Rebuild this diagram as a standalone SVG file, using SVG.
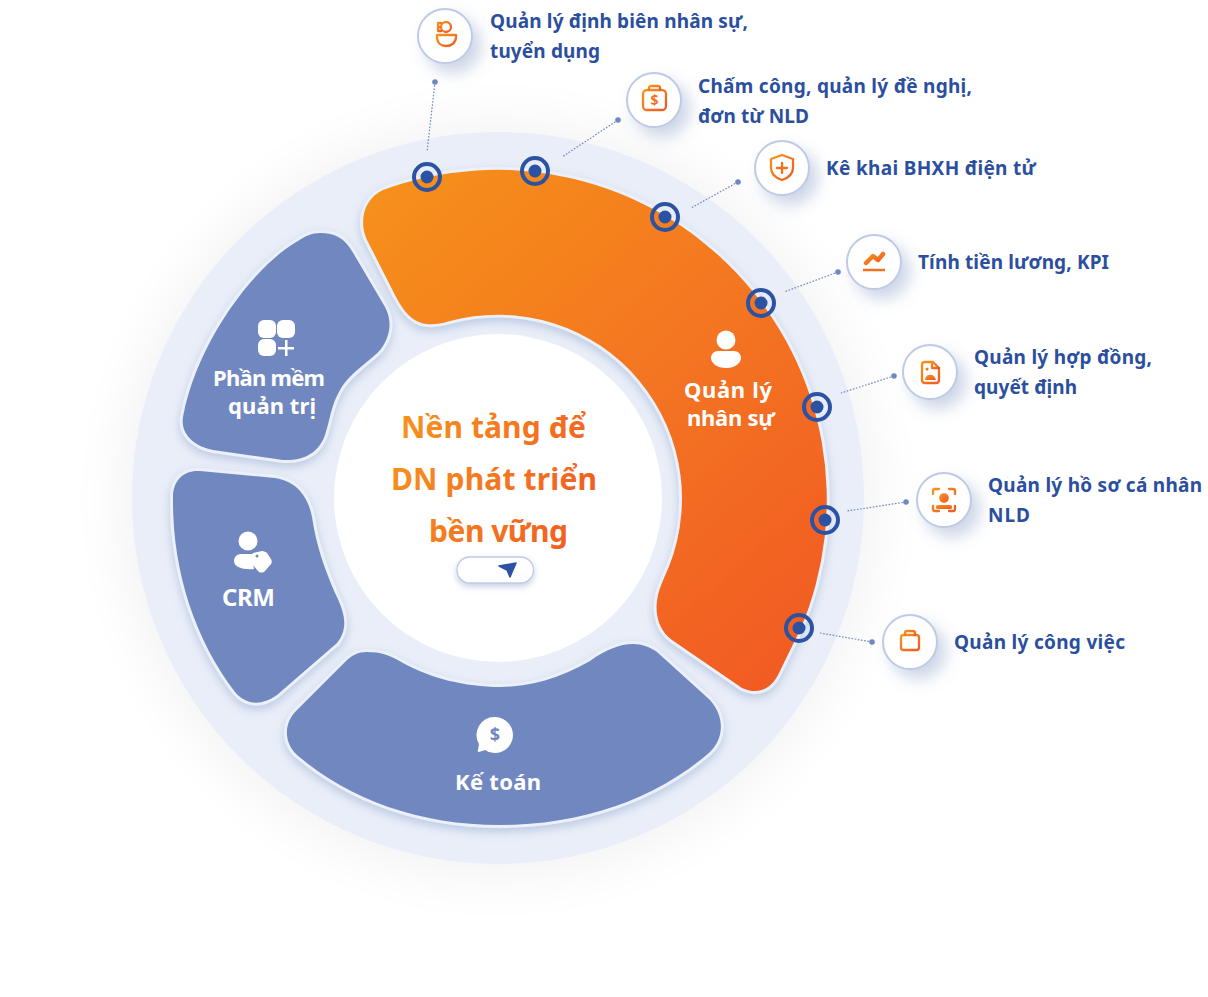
<svg xmlns="http://www.w3.org/2000/svg" width="1208" height="997" viewBox="0 0 1208 997">
<style>
text{font-family:"Noto Sans","Open Sans","DejaVu Sans",sans-serif;font-weight:700}
.lbl{font-size:19px;fill:#2b4f9e}
.w{font-size:22px;fill:#fff}
.c{font-size:30px;fill:url(#tg)}
.seg{fill:#6f88bf;stroke:#ebf0f9;stroke-width:6;paint-order:stroke;filter:url(#segS)}
.lead{stroke:#6f88bf;stroke-width:1.2;stroke-dasharray:1.6 1.6;fill:none}
.ld{fill:#6f88bf}
.ring{fill:none;stroke:#2b52a3;stroke-width:4}
.rd{fill:#2b52a3}
.ic{fill:#fff;stroke:#bdcbe5;stroke-width:2;filter:url(#icS)}
.o{fill:none;stroke:url(#ig);stroke-width:2.3;stroke-linecap:round;stroke-linejoin:round}
.of{fill:url(#ig)}
.ol{stroke:#f4701f;stroke-width:2.3;stroke-linecap:round;fill:none}
.d{font-size:14px;fill:#f4701f;text-anchor:middle}
</style>
<defs>
<linearGradient id="og" gradientUnits="userSpaceOnUse" x1="370" y1="190" x2="800" y2="680"><stop offset="0" stop-color="#f6901e"/><stop offset="1" stop-color="#f15a22"/></linearGradient>
<linearGradient id="tg" gradientUnits="userSpaceOnUse" x1="391" y1="430" x2="597" y2="530"><stop offset="0" stop-color="#f7931e"/><stop offset="1" stop-color="#f15a22"/></linearGradient>
<linearGradient id="ig" x1="0" y1="0" x2="1" y2="1"><stop offset="0" stop-color="#f7931e"/><stop offset="1" stop-color="#f15a22"/></linearGradient>
<filter id="glow" x="-30%" y="-30%" width="160%" height="160%"><feGaussianBlur stdDeviation="30"/></filter>
<filter id="segS" x="-15%" y="-15%" width="130%" height="130%"><feDropShadow dx="0" dy="4" stdDeviation="5" flood-color="#9fb2d6" flood-opacity=".6"/></filter>
<filter id="icS" x="-60%" y="-60%" width="240%" height="240%"><feDropShadow dx="8" dy="9" stdDeviation="8" flood-color="#8ea2c9" flood-opacity=".45"/></filter>
<filter id="btnS" x="-30%" y="-60%" width="160%" height="240%"><feDropShadow dx="0" dy="3" stdDeviation="3" flood-color="#8ea2c9" flood-opacity=".5"/></filter>
</defs>
<rect width="1208" height="997" fill="#fff"/>
<circle cx="498" cy="500" r="375" fill="#000" opacity=".05" filter="url(#glow)"/>
<circle id="disc" cx="498" cy="498" r="366" fill="#e9eef8"/>

<g id="node-phan-mem">
<path class="seg" d="M320,233C335,233 344,238 352,251L385,307C392,320 391,335 381,349C372,360 350,372 340,390C331,405 330,420 325,435C319,452 305,461 283,460L213,450C196,447 180,435 183,417C196,345 252,267 298,241C305,236 312,233 320,233Z"/>
<g fill="#fff"><rect x="258" y="320" width="18" height="18" rx="6"/><rect x="277" y="320" width="18" height="18" rx="6"/><rect x="258" y="339" width="18" height="17" rx="6"/><rect x="285" y="340" width="2.500" height="16"/><rect x="278" y="347" width="16" height="2.500"/></g>
<text class="w" x="213" y="386" textLength="112">Phần mềm</text>
<text class="w" x="228" y="414" textLength="88">quản trị</text>
</g>

<g id="node-crm">
<path class="seg" d="M200,471L275,478C296,481 308,496 312,517C316,545 325,570 335,593C347,617 347,630 337,643L277,695C260,707 245,704 235,692C195,640 172,570 173,497C173,480 184,470 200,471Z"/>
<g fill="#fff"><circle cx="248" cy="541" r="9.500"/><path d="M241,554C236,554 234,558 234,561C234,567 243,570 254,569L252,560C252,557 253,555 255,554Z"/><path d="M253,553L262,551C264,551 266,552 267,553L271,559C272,561 272,563 271,564L265,571C263,573 260,573 258,571L252,564C251,562 251,556 253,553Z"/></g>
<circle cx="257" cy="556" r="1.500" fill="#6f88bf"/>
<text class="w" style="font-size:24px" x="222" y="606" textLength="53">CRM</text>
</g>

<g id="node-ke-toan">
<path class="seg" d="M367,652C380,652 390,655 403,663C430,678 465,687 500,687C530,687 560,678 590,661C605,650 620,644 633,644C642,644 650,647 657,652L710,700C725,717 724,738 710,752C655,800 580,825 500,825C420,825 350,800 297,755C283,742 284,722 297,710L345,662C352,655 358,652 367,652Z"/>
<path fill="#fff" d="M495,717A18,18 0 1 1 485,750L479,752C478,752 477,751 478,750L479,744A18,18 0 0 1 495,717Z"/>
<text x="495" y="741" font-size="18" fill="#6f88bf" text-anchor="middle">$</text>
<text class="w" x="455" y="790" textLength="86">Kế toán</text>
</g>

<g id="node-quan-ly-nhan-su">
<path d="M383,190A330,330 0 0 1 800,630L778,675C770,690 757,695 742,688L672,640C656,628 652,606 662,583L664,578A184,184 0 0 0 450,321C420,330 408,320 395,295L367,240C358,220 365,198 383,190Z" fill="url(#og)" stroke="#ebf0f9" stroke-width="6" paint-order="stroke" filter="url(#segS)"/>
<g fill="#fff"><circle cx="726" cy="340" r="9.500"/><path d="M718,351H734C739,351 741,355 741,358C741,363 735,368 726,368C717,368 711,363 711,358C711,355 713,351 718,351Z"/></g>
<text class="w" x="684" y="398" textLength="88">Quản lý</text>
<text class="w" x="687" y="426" textLength="88">nhân sự</text>
</g>

<g id="node-center">
<circle cx="498" cy="498" r="164" fill="#fff"/>
<text class="c" x="401" y="438" textLength="185">Nền tảng để</text>
<text class="c" x="391" y="490" textLength="206">DN phát triển</text>
<text class="c" x="429" y="542" textLength="139">bền vững</text>
<rect x="457" y="557" width="76.500" height="26" rx="13" fill="#fff" stroke="#bdcbe5" stroke-width="1.300" filter="url(#btnS)"/>
<path d="M499,566L516,563L510,577L507,570Z" fill="#2b52a3" stroke="#2b52a3" stroke-width="1.500" stroke-linejoin="round"/>
</g>

<g id="connectors">
<path class="lead" d="M435,82L427,152"/><circle class="ld" cx="435" cy="82" r="2.800"/>
<path class="lead" d="M618,120L562,157"/><circle class="ld" cx="618" cy="120" r="2.800"/>
<path class="lead" d="M738,182L691,208"/><circle class="ld" cx="738" cy="182" r="2.800"/>
<path class="lead" d="M838,272L784,292"/><circle class="ld" cx="838" cy="272" r="2.800"/>
<path class="lead" d="M894,376L841,393"/><circle class="ld" cx="894" cy="376" r="2.800"/>
<path class="lead" d="M906,502L847,511"/><circle class="ld" cx="906" cy="502" r="2.800"/>
<path class="lead" d="M872,642L820,633"/><circle class="ld" cx="872" cy="642" r="2.800"/>
<circle class="ring" cx="427" cy="177" r="13"/><circle class="rd" cx="427" cy="177" r="6.500"/>
<circle class="ring" cx="535" cy="171" r="13"/><circle class="rd" cx="535" cy="171" r="6.500"/>
<circle class="ring" cx="665" cy="217" r="13"/><circle class="rd" cx="665" cy="217" r="6.500"/>
<circle class="ring" cx="761" cy="303" r="13"/><circle class="rd" cx="761" cy="303" r="6.500"/>
<circle class="ring" cx="817" cy="407" r="13"/><circle class="rd" cx="817" cy="407" r="6.500"/>
<circle class="ring" cx="825" cy="520" r="13"/><circle class="rd" cx="825" cy="520" r="6.500"/>
<circle class="ring" cx="799" cy="628" r="13"/><circle class="rd" cx="799" cy="628" r="6.500"/>
</g>

<g id="item-dinh-bien">
<circle class="ic" cx="445" cy="36" r="27"/>
<circle class="o" cx="446" cy="27" r="5"/><path class="o" d="M441,23H438V31H441M438,27H440"/><path class="o" d="M437,35H456V37C456,43 451,46 446,46C441,46 437,43 437,37Z"/>
<text class="lbl" x="490" y="28" textLength="258">Quản lý định biên nhân sự,</text>
<text class="lbl" x="490" y="58" textLength="110">tuyển dụng</text>
</g>
<g id="item-cham-cong">
<circle class="ic" cx="654" cy="100" r="27"/>
<rect class="o" x="643" y="90" width="23" height="20" rx="4"/><path class="o" d="M649,90V88C649,86 650,86 652,86H657C659,86 660,86 660,88V90"/>
<text class="d" x="654.500" y="105">$</text>
<text class="lbl" x="698" y="93" textLength="274">Chấm công, quản lý đề nghị,</text>
<text class="lbl" x="698" y="123" textLength="111">đơn từ NLD</text>
</g>
<g id="item-bhxh">
<circle class="ic" cx="782" cy="168" r="27"/>
<path class="o" d="M771,159L782,155L793,159V168C793,174 788,178 782,180C776,178 771,174 771,168Z"/><path class="ol" d="M782,163V173M777,168H787"/>
<text class="lbl" x="826" y="175" textLength="210">Kê khai BHXH điện tử</text>
</g>
<g id="item-luong">
<circle class="ic" cx="874" cy="262" r="27"/>
<path class="o" style="stroke-width:4.500" d="M866,263L873,256L878,260L883,254"/><path class="ol" style="stroke-width:2.500;stroke-linecap:butt" d="M863,270H885"/>
<text class="lbl" x="918" y="269" textLength="191">Tính tiền lương, KPI</text>
</g>
<g id="item-hop-dong">
<circle class="ic" cx="930" cy="372" r="27"/>
<path class="o" d="M925,362H933L939,368V380C939,382 938,383 936,383H925C923,383 922,382 922,380V365C922,363 923,362 925,362Z"/><path class="o" d="M932,362V368H939"/>
<circle class="of" cx="927" cy="369" r="1.500"/><path class="of" d="M925,380C925,377 927,375 929,375C932,374 935,376 936,380Z"/>
<text class="lbl" x="974" y="364" textLength="178">Quản lý hợp đồng,</text>
<text class="lbl" x="974" y="394" textLength="103">quyết định</text>
</g>
<g id="item-ho-so">
<circle class="ic" cx="944" cy="500" r="27"/>
<path class="o" d="M933,494V491C933,490 934,489 935,489H939M949,489H953C954,489 955,490 955,491V494M955,506V509C955,510 954,511 953,511H949M939,511H935C934,511 933,510 933,509V506"/>
<circle class="of" cx="944" cy="498" r="4.800"/><rect class="of" x="936" y="505" width="16" height="4" rx="1.500"/>
<text class="lbl" x="988" y="492" textLength="214">Quản lý hồ sơ cá nhân</text>
<text class="lbl" x="988" y="522" textLength="42">NLD</text>
</g>
<g id="item-cong-viec">
<circle class="ic" cx="910" cy="642" r="27"/>
<rect class="o" x="901" y="635" width="18" height="15" rx="2.500"/><path class="o" d="M905,635V633C905,632 906,631 907,631H913C914,631 915,632 915,633V635"/>
<text class="lbl" x="954" y="649" textLength="171">Quản lý công việc</text>
</g>
</svg>
